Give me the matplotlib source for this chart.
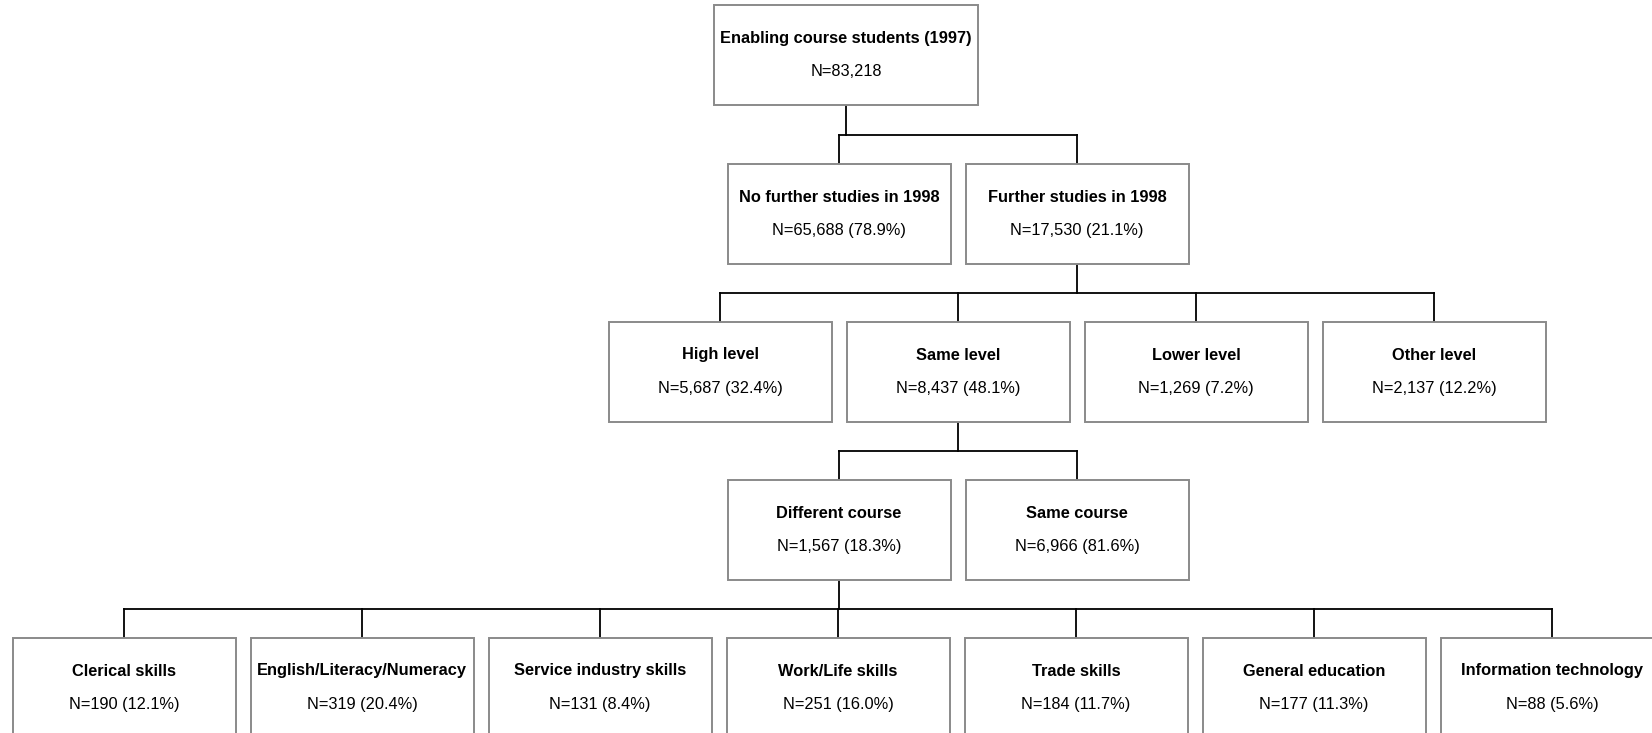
import matplotlib.pyplot as plt
from matplotlib.patches import Rectangle
from matplotlib import font_manager

# levels of the tree: title, N, share
top_title = "Enabling course students (1997)"
top_n = "83,218"

lvl2_titles = ["No further studies in 1998", "Further studies in 1998"]
lvl2_n = ["65,688", "17,530"]
lvl2_pct = [78.9, 21.1]

lvl3_titles = ["High level", "Same level", "Lower level", "Other level"]
lvl3_n = ["5,687", "8,437", "1,269", "2,137"]
lvl3_pct = [32.4, 48.1, 7.2, 12.2]

lvl4_titles = ["Different course", "Same course"]
lvl4_n = ["1,567", "6,966"]
lvl4_pct = [18.3, 81.6]

lvl5_titles = ["Clerical skills", "English/Literacy/Numeracy", "Service industry skills",
               "Work/Life skills", "Trade skills", "General education", "Information technology"]
lvl5_n = ["190", "319", "131", "251", "184", "177", "88"]
lvl5_pct = [12.1, 20.4, 8.4, 16.0, 11.7, 11.3, 5.6]

names = [f.name for f in font_manager.fontManager.ttflist]
fam = "Liberation Sans Narrow" if "Liberation Sans Narrow" in names else "Liberation Sans"

W, H = 1652, 733
fig = plt.figure(figsize=(W / 100, H / 100), dpi=100)
ax = fig.add_axes([0, 0, 1, 1])
ax.set_xlim(0, W)
ax.set_ylim(H, 0)
ax.axis("off")

BW, BH = 223, 100
PITCH = 238
TOPS = [5, 164, 322, 480, 638]


def box(cx, top, title, line2, w=BW):
    ax.add_patch(Rectangle((cx - w / 2, top), w, BH, facecolor="white",
                           edgecolor="#8a8a8a", lw=1.4, zorder=2))
    ax.text(cx, top + 33, title, ha="center", va="center", fontsize=11.8,
            fontweight="bold", family=fam, zorder=3)
    ax.text(cx, top + 67, line2, ha="center", va="center", fontsize=11.8,
            family=fam, zorder=3)


def centers(n, c0):
    return [c0 + i * PITCH for i in range(n)]


def connect(px, ptop, kids, ctop):
    ymid = ctop - 29
    ax.plot([px, px], [ptop + BH, ymid], color="black", lw=1.3, zorder=1)
    ax.plot([min(kids), max(kids)], [ymid, ymid], color="black", lw=1.3, zorder=1)
    for k in kids:
        ax.plot([k, k], [ymid, ctop], color="black", lw=1.3, zorder=1)


c1 = [846]
c2 = centers(len(lvl2_titles), 839)
c3 = centers(len(lvl3_titles), 720)
c4 = centers(len(lvl4_titles), 839)
c5 = centers(len(lvl5_titles), 124)

box(c1[0], TOPS[0], top_title, "N=" + top_n, w=264)
for cx, t, n, p in zip(c2, lvl2_titles, lvl2_n, lvl2_pct):
    box(cx, TOPS[1], t, f"N={n} ({p:.1f}%)")
for cx, t, n, p in zip(c3, lvl3_titles, lvl3_n, lvl3_pct):
    box(cx, TOPS[2], t, f"N={n} ({p:.1f}%)")
for cx, t, n, p in zip(c4, lvl4_titles, lvl4_n, lvl4_pct):
    box(cx, TOPS[3], t, f"N={n} ({p:.1f}%)")
for cx, t, n, p in zip(c5, lvl5_titles, lvl5_n, lvl5_pct):
    box(cx, TOPS[4], t, f"N={n} ({p:.1f}%)")

connect(c1[0], TOPS[0], c2, TOPS[1])
connect(c2[1], TOPS[1], c3, TOPS[2])
connect(c3[1], TOPS[2], c4, TOPS[3])
connect(c4[0], TOPS[3], c5, TOPS[4])

fig.savefig("out.png", dpi=100)
